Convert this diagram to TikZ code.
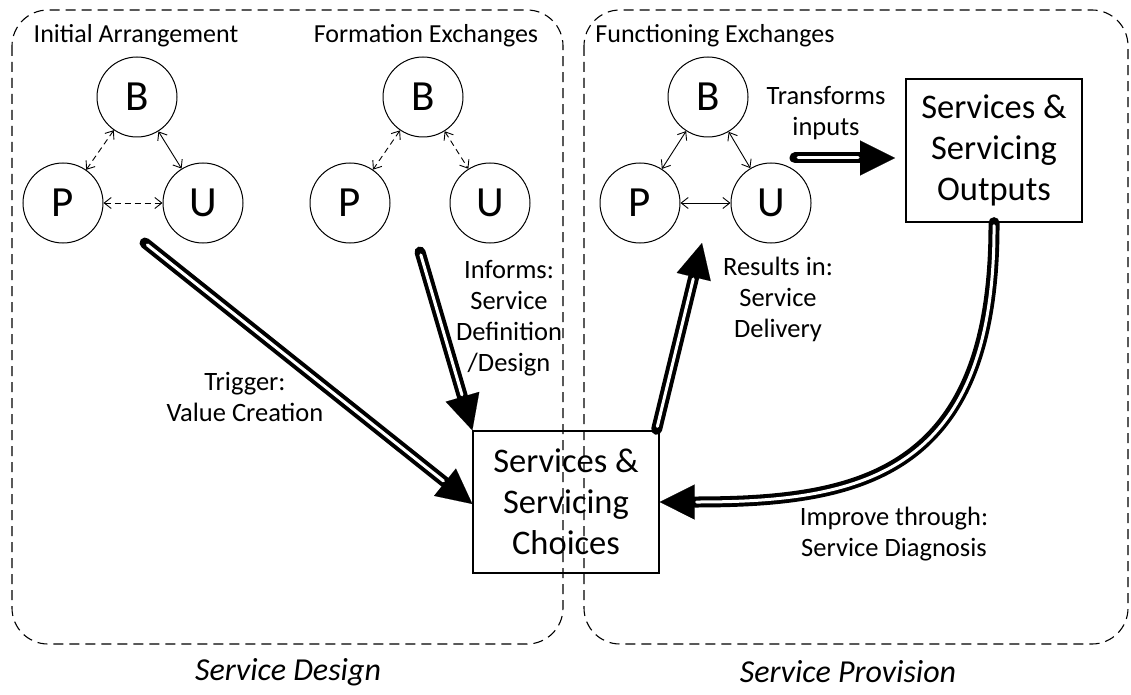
\documentclass[tikz,border=0pt]{standalone}
\usepackage{fontspec}
\setmainfont{Carlito}
\usetikzlibrary{arrows.meta}
\begin{document}
\begin{tikzpicture}[x=1pt,y=-1pt,
  agent/.style={circle,draw,line width=1pt,minimum size=80pt,inner sep=0pt,font=\fontsize{43}{45}\selectfont},
  box/.style={draw,line width=1.3pt,align=center,font=\fontsize{34.5}{41}\selectfont,inner sep=0pt},
  lab/.style={align=center,font=\fontsize{26.5}{31}\selectfont,inner sep=0pt},
  head/.style={font=\fontsize{26}{30}\selectfont,inner sep=0pt,anchor=base},
  bottomlab/.style={font=\fontsize{32}{36}\selectfont\itshape,inner sep=0pt},
  region/.style={draw,line width=1.1pt,dash pattern=on 10pt off 6pt,rounded corners=36pt},
  link/.style={line width=0.9pt,{Straight Barb[length=7pt,width=11pt]}-{Straight Barb[length=7pt,width=11pt]}},
  dlink/.style={link,dash pattern=on 6pt off 4pt},
  bigarr/.style={line width=11pt,line cap=round,-{Triangle[length=35pt,width=35pt,line width=0.1pt]},
    postaction={draw=white,line width=3pt,-,shorten >=37pt,shorten <=3pt}}]
\useasboundingbox (0,0) rectangle (1131,695);
% regions
\draw[region] (12,10) rectangle (563,644);
\draw[region] (584,10) rectangle (1128,644);
% headings
\node[head] (h1) at (136,43) {Initial Arrangement};
\node[head] (h2) at (426,43) {Formation Exchanges};
\node[head] (h3) at (715,43) {Functioning Exchanges};
% initial arrangement
\node[agent] (B1) at (137,97) {B};
\node[agent] (P1) at (63,203) {P};
\node[agent] (U1) at (203,203) {U};
\draw[dlink] (B1) -- (P1);
\draw[link] (B1) -- (U1);
\draw[dlink] (P1) -- (U1);
% formation exchanges
\node[agent] (B2) at (423,97) {B};
\node[agent] (P2) at (350,203) {P};
\node[agent] (U2) at (490,203) {U};
\draw[dlink] (B2) -- (P2);
\draw[dlink] (B2) -- (U2);
% functioning exchanges
\node[agent] (B3) at (708,97) {B};
\node[agent] (P3) at (640,203) {P};
\node[agent] (U3) at (771,203) {U};
\draw[link] (B3) -- (P3);
\draw[link] (B3) -- (U3);
\draw[link] (P3) -- (U3);
% boxes
\node[box,minimum width=186pt,minimum height=142pt] (choices) at (566,502) {Services \&\\Servicing\\Choices};
\node[box,minimum width=176pt,minimum height=143pt] (outputs) at (994,150.5) {Services \&\\Servicing\\Outputs};
% big arrows
\coordinate (t0) at (145,243);
\coordinate (i0) at (420,252);
\coordinate (r1) at (702,243);
\coordinate (tr0) at (795,158);
\coordinate (tr1) at (895,158);
\draw[bigarr] (t0) -- ([yshift=-2pt]choices.west);
\draw[bigarr] (i0) -- (choices.north west);
\draw[bigarr] ([xshift=-3pt,yshift=1pt]choices.north east) -- (r1);
\draw[bigarr] (tr0) -- (tr1);
\draw[bigarr] (outputs.south) .. controls (995,475) and (860,502) .. (choices.east);
% labels
\node[lab] (ltr) at (826,113) {Transforms\\inputs};
\node[lab] (lres) at (778,299) {Results in:\\Service\\Delivery};
\node[lab] (linf) at (509,318) {Informs:\\Service\\Definition\\/Design};
\node[lab] (ltrig) at (245,397) {Trigger:\\Value Creation};
\node[lab] (limp) at (894,534) {Improve through:\\Service Diagnosis};
\node[bottomlab] (sd) at (288,672) {Service Design};
\node[bottomlab] (sp) at (848,672) {Service Provision};
\end{tikzpicture}
\end{document}
